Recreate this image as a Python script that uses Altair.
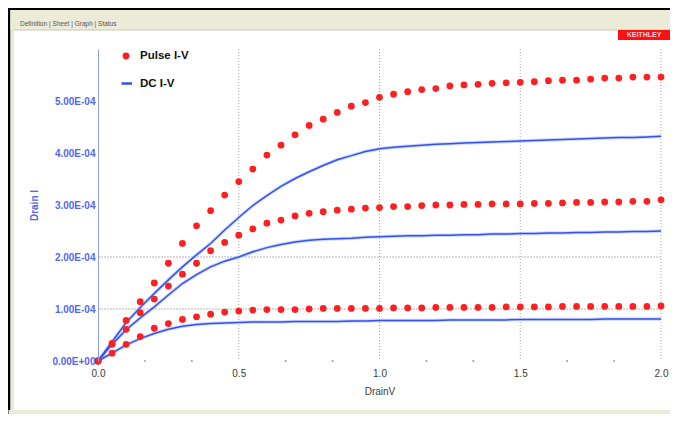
import altair as alt
import pandas as pd

# ---------------- data ----------------
volts = [0.00, 0.05, 0.10, 0.15, 0.20, 0.25, 0.30, 0.35, 0.40, 0.45,
         0.50, 0.55, 0.60, 0.65, 0.70, 0.75, 0.80, 0.85, 0.90, 0.95,
         1.00, 1.05, 1.10, 1.15, 1.20, 1.25, 1.30, 1.35, 1.40, 1.45,
         1.50, 1.55, 1.60, 1.65, 1.70, 1.75, 1.80, 1.85, 1.90, 1.95, 2.00]

# drain current, in units of 1E-04 A
pulse_high = [0.00, 0.34, 0.78, 1.14, 1.50, 1.88, 2.26, 2.60, 2.89, 3.19,
              3.45, 3.69, 3.96, 4.15, 4.35, 4.53, 4.65, 4.78, 4.90, 4.97,
              5.07, 5.13, 5.18, 5.22, 5.24, 5.29, 5.31, 5.32, 5.34, 5.35,
              5.36, 5.37, 5.39, 5.40, 5.40, 5.42, 5.44, 5.44, 5.46, 5.46, 5.46]
pulse_mid = [0.00, 0.32, 0.61, 0.93, 1.19, 1.44, 1.67, 1.88, 2.12, 2.28,
             2.42, 2.54, 2.65, 2.71, 2.79, 2.84, 2.87, 2.90, 2.92, 2.94,
             2.95, 2.97, 2.97, 2.99, 3.00, 3.00, 3.01, 3.01, 3.02, 3.02,
             3.02, 3.03, 3.03, 3.04, 3.05, 3.05, 3.06, 3.06, 3.07, 3.07, 3.10]
pulse_low = [0.00, 0.15, 0.32, 0.47, 0.63, 0.72, 0.80, 0.85, 0.90, 0.94,
             0.96, 0.98, 0.99, 0.99, 0.99, 1.00, 1.01, 1.01, 1.01, 1.01,
             1.01, 1.02, 1.02, 1.02, 1.03, 1.03, 1.03, 1.03, 1.03, 1.04,
             1.04, 1.04, 1.04, 1.05, 1.05, 1.05, 1.05, 1.05, 1.05, 1.05, 1.06]

dc_high = [0.00, 0.37, 0.74, 1.03, 1.30, 1.56, 1.81, 2.04, 2.26, 2.52,
           2.76, 2.99, 3.18, 3.36, 3.51, 3.64, 3.76, 3.87, 3.95, 4.03,
           4.08, 4.11, 4.13, 4.15, 4.17, 4.18, 4.19, 4.20, 4.21, 4.22,
           4.23, 4.24, 4.25, 4.26, 4.27, 4.28, 4.29, 4.30, 4.30, 4.31, 4.32]
dc_mid = [0.00, 0.32, 0.60, 0.83, 1.04, 1.27, 1.49, 1.66, 1.81, 1.92,
          2.00, 2.10, 2.18, 2.24, 2.29, 2.32, 2.34, 2.35, 2.36, 2.38,
          2.39, 2.40, 2.41, 2.41, 2.42, 2.42, 2.43, 2.43, 2.44, 2.44,
          2.45, 2.45, 2.46, 2.46, 2.47, 2.47, 2.48, 2.48, 2.49, 2.49, 2.50]
dc_low = [0.00, 0.15, 0.31, 0.43, 0.53, 0.61, 0.67, 0.70, 0.72, 0.73,
          0.74, 0.75, 0.75, 0.75, 0.76, 0.76, 0.76, 0.76, 0.77, 0.77,
          0.78, 0.78, 0.78, 0.78, 0.78, 0.79, 0.79, 0.79, 0.79, 0.79,
          0.80, 0.80, 0.80, 0.80, 0.80, 0.80, 0.81, 0.81, 0.81, 0.81, 0.81]

UNIT = 1e-4
x_ticks = [0.0, 0.5, 1.0, 1.5, 2.0]
y_ticks = [0.0, 1e-4, 2e-4, 3e-4, 4e-4, 5e-4]
x_grid = [0.5, 1.0, 1.5, 2.0]
y_grid = [1e-4, 2e-4]
x_minor = [1/6, 2/6, 4/6, 5/6, 7/6, 8/6, 10/6, 11/6]
legend_labels = ["Pulse I-V", "DC I-V"]
tab_labels = ["Definition", "Sheet", "Graph", "Status"]
brand = "KEITHLEY"

# ---------------- tables ----------------
def long(series, name):
    return pd.DataFrame({"v": volts, "i": [s * UNIT for s in series], "curve": name})

pulse_df = pd.concat([long(pulse_high, "p1"), long(pulse_mid, "p2"), long(pulse_low, "p3")])
dc_df = pd.concat([long(dc_high, "d1"), long(dc_mid, "d2"), long(dc_low, "d3")])
one = pd.DataFrame({"k": [0]})

FONT = "Liberation Sans"
RED = "#ff1f1f"
BLUE = "#3352ee"
W, H = 563, 312
PL = 90  # left padding: plot origin sits at page x = 8 + PL

xscale = alt.Scale(domain=[0, 2], nice=False, zero=False)
yscale = alt.Scale(domain=[0, 6e-4], nice=False, zero=False)

x_axis = alt.Axis(values=x_ticks, format=".1f", domain=False, ticks=False, tickSize=0,
                  grid=False, labelFlush=False, labelFont=FONT, labelFontSize=10,
                  labelColor="#3a3a3a", labelPadding=7, title="DrainV",
                  titleFont=FONT, titleFontSize=10, titleFontWeight="normal",
                  titleColor="#3a3a3a", titlePadding=8, zindex=2)
y_axis = alt.Axis(values=y_ticks,
                  labelExpr="datum.value < 1e-9 ? '0.00E+00' : format(datum.value * 10000, '.2f') + 'E-04'",
                  domain=True, domainColor="#8c9cff", domainWidth=1, ticks=False, tickSize=0,
                  grid=False, labelFont=FONT, labelFontSize=10, labelFontWeight="bold",
                  labelColor="#5566ee", labelPadding=3, title="Drain I",
                  titleFont=FONT, titleFontSize=10, titleFontWeight="bold",
                  titleColor="#5566ee", titlePadding=12, zindex=2)

X = lambda: alt.X("v:Q", scale=xscale, axis=x_axis)
Y = lambda: alt.Y("i:Q", scale=yscale, axis=y_axis)


def rect(px1, px2, y1, y2, color):
    # px given in page coordinates, converted to plot-relative pixels
    o = 8 + PL
    return alt.Chart(one).mark_rect(color=color).encode(
        x=alt.value(px1 - o), x2=alt.value(px2 - o), y=alt.value(y1), y2=alt.value(y2))


# ---------------- window decoration ----------------
frame = [
    rect(8, 670, -41, -39, "#000000"),
    rect(8, 10.5, -41, 365, "#000000"),
    rect(10.5, 670, -39, -19, "#ecebd8"),
    rect(10.5, 14, -39, 365, "#ecebd8"),
    rect(-89.5 + 98, 670, 361, 365, "#ecebd8"),
    rect(14, 670, -19.5, -18.5, "#c9c8b4"),
    rect(618, 670, -19, -9, "#ff1010"),
]
tabs = alt.Chart(one).mark_text(
    text=" | ".join(tab_labels), align="left", baseline="middle", font=FONT,
    fontSize=6.5, color="#555555").encode(x=alt.value(20 - 8 - PL), y=alt.value(-25))
brand_txt = alt.Chart(one).mark_text(
    text=brand, align="center", baseline="middle", font=FONT, fontSize=7,
    fontWeight="bold", color="#ffd0d0").encode(x=alt.value(644 - 8 - PL), y=alt.value(-14))

# ---------------- grid ----------------
vgrid = alt.Chart(pd.DataFrame({"v": x_grid})).mark_rule(
    color="#a8a8a8", strokeDash=[1, 2], strokeWidth=1).encode(x=X())
hgrid = alt.Chart(pd.DataFrame({"i": y_grid})).mark_rule(
    color="#cfcfcf", strokeDash=[2, 1], strokeWidth=1.5).encode(y=Y())
minor = alt.Chart(pd.DataFrame({"v": x_minor, "i": [0.0] * len(x_minor)})).mark_square(
    size=3, color="#9a9a9a", opacity=1).encode(x=X(), y=Y())

# ---------------- data marks ----------------
dc_halo = alt.Chart(dc_df).mark_line(color="#aebaff", strokeWidth=3.5, opacity=0.6).encode(
    x=X(), y=Y(), detail="curve:N")
dc_line = alt.Chart(dc_df).mark_line(color=BLUE, strokeWidth=1.5).encode(
    x=X(), y=Y(), detail="curve:N")
pulse_pts = alt.Chart(pulse_df).mark_point(
    filled=True, shape="circle", size=46, color=RED, opacity=1).encode(
    x=X(), y=Y(), detail="curve:N")

# ---------------- legend ----------------
leg_pt = alt.Chart(one).mark_point(filled=True, shape="circle", size=46, color=RED,
                                   opacity=1).encode(x=alt.value(28), y=alt.value(7))
leg_ln = alt.Chart(one).mark_rule(color=BLUE, strokeWidth=2.5).encode(
    x=alt.value(23.5), x2=alt.value(34), y=alt.value(34.5))
leg_t1 = alt.Chart(one).mark_text(text=legend_labels[0], align="left", baseline="middle",
                                  font=FONT, fontSize=11.5, fontWeight="bold",
                                  color="#111111").encode(x=alt.value(42), y=alt.value(7))
leg_t2 = alt.Chart(one).mark_text(text=legend_labels[1], align="left", baseline="middle",
                                  font=FONT, fontSize=11.5, fontWeight="bold",
                                  color="#111111").encode(x=alt.value(42), y=alt.value(35))

chart = alt.layer(
    *frame, tabs, brand_txt, vgrid, hgrid, minor, dc_halo, dc_line, pulse_pts,
    leg_pt, leg_ln, leg_t1, leg_t2
).properties(
    width=W, height=H,
    autosize=alt.AutoSizeParams(type="none"),
    padding={"left": PL, "top": 41, "right": 9, "bottom": 53},
    background="#ffffff",
).configure_view(strokeWidth=0)

chart.save("out.html", embed_options={"renderer": "svg", "actions": False})
